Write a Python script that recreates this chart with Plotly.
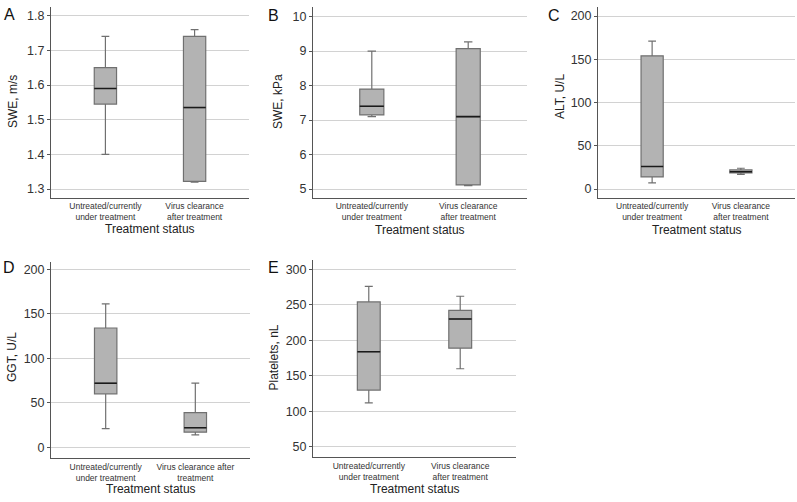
import plotly.graph_objects as go

W, H = 797, 502

cats = ["Untreated/currently<br>under treatment", "Virus clearance<br>after treatment"]
cats_d = ["Untreated/currently<br>under treatment", "Virus clearance after<br>treatment"]

# Panel A: SWE, m/s
a_low = [1.40, 1.32]
a_q1 = [1.545, 1.322]
a_med = [1.59, 1.535]
a_q3 = [1.65, 1.74]
a_high = [1.74, 1.76]

# Panel B: SWE, kPa
b_low = [7.10, 5.10]
b_q1 = [7.15, 5.12]
b_med = [7.40, 7.10]
b_q3 = [7.90, 9.07]
b_high = [9.00, 9.27]

# Panel C: ALT, U/L
c_low = [7, 17]
c_q1 = [14, 18.5]
c_med = [26, 20]
c_q3 = [154, 22]
c_high = [171, 24]

# Panel D: GGT, U/L
d_low = [21, 14]
d_q1 = [60, 17]
d_med = [72, 22]
d_q3 = [134, 39]
d_high = [161, 72]

# Panel E: Platelets, nL
e_low = [112, 160]
e_q1 = [130, 189]
e_med = [184, 230]
e_q3 = [254, 242]
e_high = [276, 262]

xtitle = "Treatment status"

panels = [
    dict(letter="A", ytitle="SWE, m/s", cats=cats, low=a_low, q1=a_q1, med=a_med, q3=a_q3, high=a_high,
         ticks=[1.3, 1.4, 1.5, 1.6, 1.7, 1.8], ticktext=["1.3", "1.4", "1.5", "1.6", "1.7", "1.8"],
         yrange=[1.275, 1.825], px=(51, 249), py=(7, 197.7), ty=229,
         lx=9, ly=15, yx=13, yy=102),
    dict(letter="B", ytitle="SWE, kPa", cats=cats, low=b_low, q1=b_q1, med=b_med, q3=b_q3, high=b_high,
         ticks=[5, 6, 7, 8, 9, 10], ticktext=["5", "6", "7", "8", "9", "10"],
         yrange=[4.748, 10.28], px=(313, 527), py=(7, 197.7), ty=230,
         lx=273, ly=15.5, yx=278, yy=102),
    dict(letter="C", ytitle="ALT, U/L", cats=cats, low=c_low, q1=c_q1, med=c_med, q3=c_q3, high=c_high,
         ticks=[0, 50, 100, 150, 200], ticktext=["0", "50", "100", "150", "200"],
         yrange=[-10.06, 210.4], px=(598, 795), py=(7, 197.7), ty=230,
         lx=553.5, ly=15.5, yx=560, yy=97),
    dict(letter="D", ytitle="GGT, U/L", cats=cats_d, low=d_low, q1=d_q1, med=d_med, q3=d_q3, high=d_high,
         ticks=[0, 50, 100, 150, 200], ticktext=["0", "50", "100", "150", "200"],
         yrange=[-12.4, 208.5], px=(51, 250), py=(261.7, 458.3), ty=489,
         lx=9, ly=267, yx=12, yy=357),
    dict(letter="E", ytitle="Platelets, nL", cats=cats, low=e_low, q1=e_q1, med=e_med, q3=e_q3, high=e_high,
         ticks=[50, 100, 150, 200, 250, 300], ticktext=["50", "100", "150", "200", "250", "300"],
         yrange=[35.4, 313], px=(313, 516), py=(260, 457.3), ty=489,
         lx=273.5, ly=267, yx=273.5, yy=358),
]

FONT = "Liberation Sans, Arial, Helvetica, sans-serif"
BOX_W = 0.25


def fx(p):
    return min(max(p / W, 0.0), 1.0)


def fy(p):
    return min(max(1 - p / H, 0.0), 1.0)


fig = go.Figure()
layout = dict(
    width=W, height=H, margin=dict(l=0, r=0, t=0, b=0),
    paper_bgcolor="white", plot_bgcolor="white", showlegend=False,
    font=dict(family=FONT, color="#333333"),
)
shapes = []
annotations = []

for i, p in enumerate(panels):
    n = "" if i == 0 else str(i + 1)
    xa, ya = "x" + n, "y" + n
    fig.add_trace(go.Box(
        x=p["cats"], q1=p["q1"], median=p["med"], q3=p["q3"],
        lowerfence=p["low"], upperfence=p["high"],
        xaxis=xa, yaxis=ya, width=BOX_W, whiskerwidth=0.35,
        fillcolor="#b3b3b3", line=dict(color="#707070", width=1.2),
        boxpoints=False, hoverinfo="skip",
    ))
    for j, m in enumerate(p["med"]):
        shapes.append(dict(type="line", xref=xa, yref=ya,
                           x0=j - BOX_W / 2, x1=j + BOX_W / 2, y0=m, y1=m,
                           line=dict(color="#1a1a1a", width=1.6)))
    x0, x1 = p["px"]
    y0, y1 = p["py"]
    layout["xaxis" + n] = dict(
        domain=[fx(x0), fx(x1)], anchor=ya, type="category",
        categoryorder="array", categoryarray=p["cats"],
        range=[-0.61, 1.61], showgrid=False, zeroline=False,
        showline=True, linecolor="#555555", linewidth=1, ticks="",
        tickfont=dict(size=8.5, color="#333333"),
    )
    layout["yaxis" + n] = dict(
        domain=[fy(y1), fy(y0)], anchor=xa,
        range=p["yrange"], tickvals=p["ticks"], ticktext=p["ticktext"],
        showgrid=True, gridcolor="#d2d2d2", gridwidth=1, zeroline=False,
        showline=True, linecolor="#555555", linewidth=1,
        ticks="outside", ticklen=3, tickcolor="#555555",
        tickfont=dict(size=12.5, color="#333333"),
    )
    # y-axis title
    annotations.append(dict(text=p["ytitle"], xref="paper", yref="paper",
                            x=fx(p["yx"]), y=fy(p["yy"]), textangle=-90,
                            xanchor="center", yanchor="middle", showarrow=False,
                            font=dict(size=12, color="#222222", family=FONT)))
    # x-axis title
    annotations.append(dict(text=xtitle, xref="paper", yref="paper",
                            x=fx((x0 + x1) / 2), y=fy(p["ty"]),
                            xanchor="center", yanchor="middle", showarrow=False,
                            font=dict(size=12, color="#222222", family=FONT)))
    # panel letter
    annotations.append(dict(text=p["letter"], xref="paper", yref="paper",
                            x=fx(p["lx"]), y=fy(p["ly"]), xanchor="center", yanchor="middle",
                            showarrow=False, font=dict(size=16, color="#111111", family=FONT)))

layout["shapes"] = shapes
layout["annotations"] = annotations
fig.update_layout(**layout)
# remove the page's default body margin so the figure fills the window exactly
fig.write_html("out.html", config={"displayModeBar": False},
               post_script="document.body.style.margin='0px';")
